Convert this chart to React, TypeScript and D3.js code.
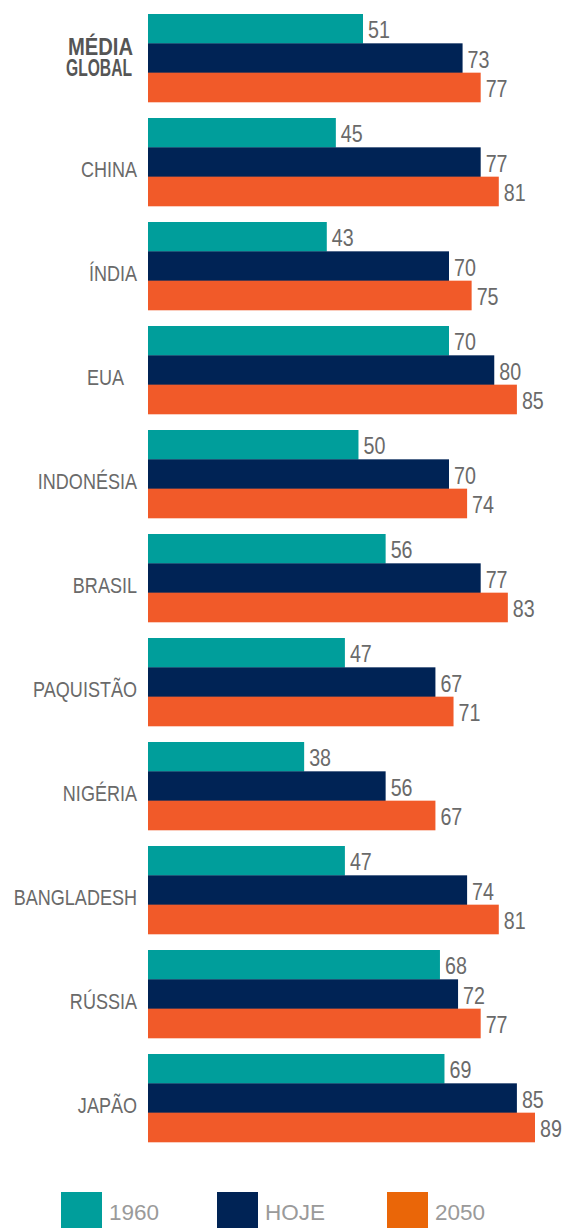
import React, { useEffect } from "react";
import * as d3 from "d3";

const categories = ["MÉDIA\nGLOBAL", "CHINA", "ÍNDIA", "EUA", "INDONÉSIA", "BRASIL", "PAQUISTÃO", "NIGÉRIA", "BANGLADESH", "RÚSSIA", "JAPÃO"];
const series = ["1960", "HOJE", "2050"];
const values1960 = [51, 45, 43, 70, 50, 56, 47, 38, 47, 68, 69];
const valuesHoje = [73, 77, 70, 80, 70, 77, 67, 56, 74, 72, 85];
const values2050 = [77, 81, 75, 85, 74, 83, 71, 67, 81, 77, 89];

const barColors = ["#009E9B", "#002355", "#F15A29"];
const legendColors = ["#009E9B", "#002355", "#EA6608"];

const W = 566;
const H = 1228;
const SANS = "'Liberation Sans', Arial, Helvetica, sans-serif";
const NARROW_SCALE = 0.82;

function NarrowText(props: {
  x: number;
  y: number;
  anchor?: "start" | "end";
  size: number;
  weight?: string;
  fill: string;
  children: React.ReactNode;
}) {
  const { x, y, anchor = "start", size, weight = "normal", fill, children } = props;
  return (
    <text
      transform={`translate(${x},${y}) scale(${NARROW_SCALE},1)`}
      textAnchor={anchor}
      fontFamily={SANS}
      fontSize={size}
      fontWeight={weight}
      fill={fill}
    >
      {children}
    </text>
  );
}

export default function App() {
  useEffect(() => {
    document.body.style.margin = "0";
  }, []);

  const allSeries = [values1960, valuesHoje, values2050];
  const axisMin = 3.5;
  const x = d3.scaleLinear().domain([axisMin, 89]).range([148, 535]);
  const y0 = d3.scaleBand<string>().domain(categories).range([14, 1142]).paddingInner(16 / 104).paddingOuter(0);
  const y1 = d3.scaleBand<string>().domain(series).range([0, y0.bandwidth()]);

  const globalLines = [
    { right: 133, width: 65 },
    { right: 132, width: 66 },
  ];

  return (
    <svg width={W} height={H} style={{ position: "absolute", left: 0, top: 0, background: "#fff" }}>
      {categories.map((cat, i) => {
        const gy = y0(cat)!;
        const navyBottom = gy + y1("HOJE")! + y1.bandwidth();
        const isGlobal = i === 0;
        return (
          <g key={cat}>
            {series.map((s, j) => {
              const v = allSeries[j][i];
              const by = gy + y1(s)!;
              return (
                <g key={s}>
                  <rect x={x(axisMin)} y={by} width={x(v) - x(axisMin)} height={y1.bandwidth() + 0.3} fill={barColors[j]} />
                  <NarrowText x={x(v) + 5} y={by + y1.bandwidth() - 5} size={24} fill="#6a6a6a">
                    {v}
                  </NarrowText>
                </g>
              );
            })}
            {isGlobal ? (
              cat.split("\n").map((line, k) => (
                <text
                  key={k}
                  x={globalLines[k].right}
                  y={gy + 41 + k * 21}
                  textAnchor="end"
                  fontFamily={SANS}
                  fontSize={24}
                  fontWeight="bold"
                  fill="#555"
                  textLength={globalLines[k].width}
                  lengthAdjust="spacingAndGlyphs"
                >
                  {line}
                </text>
              ))
            ) : (
              <NarrowText x={cat === "EUA" ? 124 : 137} y={navyBottom} anchor="end" size={22} fill="#6a6a6a">
                {cat}
              </NarrowText>
            )}
          </g>
        );
      })}
      {series.map((s, j) => {
        const lx = [61, 217, 387][j];
        return (
          <g key={s}>
            <rect x={lx} y={1192} width={41} height={41} fill={legendColors[j]} />
            <text x={lx + 48} y={1220} fontFamily={SANS} fontSize={22.5} fill="#9a9a9a">
              {s}
            </text>
          </g>
        );
      })}
    </svg>
  );
}
